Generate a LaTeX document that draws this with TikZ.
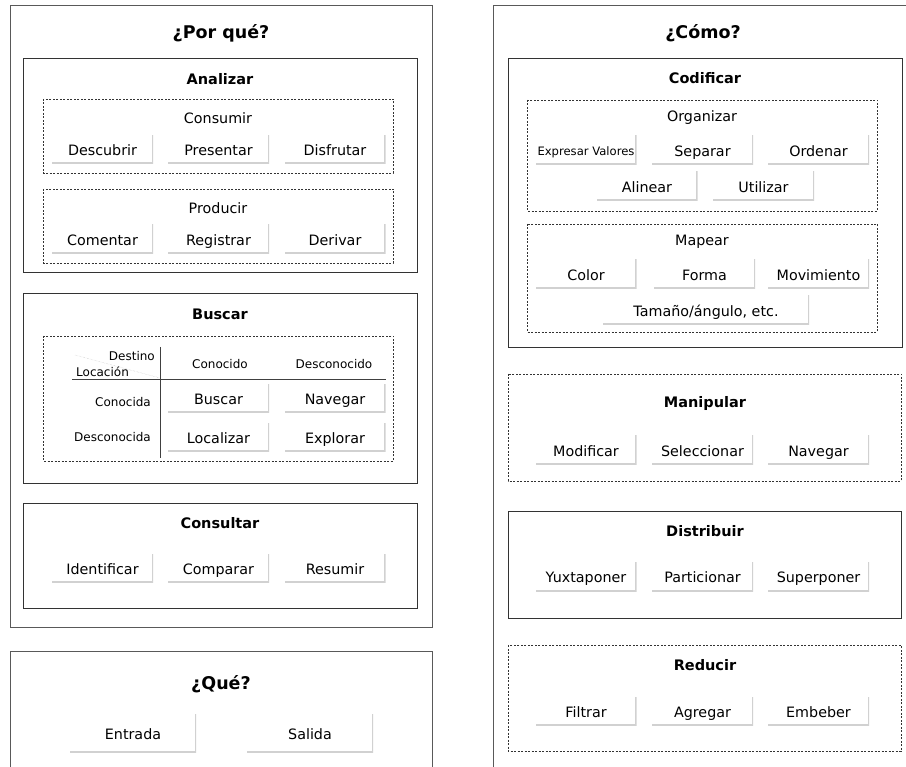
\documentclass[tikz,border=0pt]{standalone}
\usepackage{fontspec}
\setmainfont{DejaVu Sans}
\usetikzlibrary{shadows}

\begin{document}
\begin{tikzpicture}[x=1pt,y=-1pt]
\tikzset{titulo/.style={font=\bfseries\fontsize{17.5}{20}\selectfont},
  seccion/.style={font=\bfseries\fontsize{14.5}{17}\selectfont},
  etiqueta/.style={font=\fontsize{14.3}{17}\selectfont},
  tabla/.style={font=\fontsize{12}{14}\selectfont, inner sep=0pt},
  boton/.style={etiqueta, minimum width=101pt, minimum height=29pt, inner sep=0pt,
    text height=12.4pt, text depth=0pt,
    path picture={\draw[black!18, line width=3pt] (path picture bounding box.north east)
      -- (path picture bounding box.south east) -- (path picture bounding box.south west);}},
  externo/.style={draw=black!65, line width=1pt, fill=white,
    drop shadow={shadow xshift=1pt, shadow yshift=-1pt, fill=black!30, opacity=1}},
  marco/.style={draw=black!80, line width=0.9pt, fill=white,
    drop shadow={shadow xshift=1.2pt, shadow yshift=-1.2pt, fill=black!45, opacity=1}},
  grupo/.style={draw=black!80, line width=0.9pt, dash pattern=on 2pt off 1.5pt}}
\useasboundingbox (0,0) rectangle (906,767);
\clip (0,0) rectangle (906,767);

% ¿Por qué?
\draw[externo] (10,6) rectangle (432,627);
\node[titulo] (porque) at (221,33) {¿Por qué?};
\draw[marco] (23,58) rectangle (417,272);
\node[seccion] (analizar) at (220,79) {Analizar};
\draw[grupo] (43,99) rectangle (393,173);
\node[etiqueta] (consumir) at (218,118) {Consumir};
\node[boton] (descubrir) at (102.5,149.5) {Descubrir};
\node[boton] (presentar) at (218.5,149.5) {Presentar};
\node[boton] (disfrutar) at (335,149.5) {Disfrutar};
\draw[grupo] (43,189) rectangle (393,263);
\node[etiqueta] (producir) at (218,208) {Producir};
\node[boton] (comentar) at (102.5,239) {Comentar};
\node[boton] (registrar) at (218.5,239) {Registrar};
\node[boton] (derivar) at (335,239) {Derivar};

\draw[marco] (23,293) rectangle (417,483);
\node[seccion] (buscar) at (220,314) {Buscar};
\draw[grupo] (43,336) rectangle (393,461);
\coordinate (diagA) at (75,355);
\coordinate (diagB) at (160,378);
\coordinate (vertA) at (160,347);
\coordinate (vertB) at (160,458);
\coordinate (horA) at (72,379);
\coordinate (horB) at (386,379);
\draw[black!25, densely dotted] (diagA) -- (diagB);
\draw[black!75, line width=0.8pt] (vertA) -- (vertB);
\draw[black!75, line width=0.8pt] (horA) -- (horB);
\node[tabla, anchor=east] (destino) at (155,356) {Destino};
\node[tabla, anchor=west] (locacion) at (76,372) {Locación};
\node[tabla] (conocido) at (220,364) {Conocido};
\node[tabla] (desconocido) at (334,364) {Desconocido};
\node[tabla, anchor=east] (conocida) at (151,402) {Conocida};
\node[tabla, anchor=east] (desconocida) at (151,437) {Desconocida};
\node[boton] (bbuscar) at (218.5,398.5) {Buscar};
\node[boton] (navegar) at (335,398.5) {Navegar};
\node[boton] (localizar) at (218.5,437.5) {Localizar};
\node[boton] (explorar) at (335,437.5) {Explorar};

\draw[marco] (23,503) rectangle (417,608);
\node[seccion] (consultar) at (220,523) {Consultar};
\node[boton] (identificar) at (102.5,568) {Identificar};
\node[boton] (comparar) at (218.5,568) {Comparar};
\node[boton] (resumir) at (335,568) {Resumir};

% ¿Qué?
\draw[externo] (10,651) rectangle (432,790);
\node[titulo] (que) at (221,684) {¿Qué?};
\node[boton, minimum width=126pt, minimum height=38pt] (entrada) at (133,733) {Entrada};
\node[boton, minimum width=126pt, minimum height=38pt] (salida) at (310,733) {Salida};

% ¿Cómo?
\draw[externo] (493,6) rectangle (913,790);
\node[titulo] (como) at (703,33) {¿Cómo?};
\draw[marco] (508,58) rectangle (902,347);
\node[seccion] (codificar) at (705,78) {Codificar};
\draw[grupo] (527,100) rectangle (877,211);
\node[etiqueta] (organizar) at (702,118) {Organizar};
\node[boton, font=\fontsize{11.6}{14}\selectfont, text height=11pt] (expresar) at (586,150) {Expresar Valores};
\node[boton] (separar) at (702.5,150) {Separar};
\node[boton] (ordenar) at (818.5,150) {Ordenar};
\node[boton] (alinear) at (647,186) {Alinear};
\node[boton] (utilizar) at (763.5,186) {Utilizar};
\draw[grupo] (527,224) rectangle (877,332);
\node[etiqueta] (mapear) at (702,242) {Mapear};
\node[boton] (color) at (586,274) {Color};
\node[boton] (forma) at (704.5,274) {Forma};
\node[boton] (movimiento) at (818.5,274) {Movimiento};
\node[boton, minimum width=206pt] (tamano) at (706,310) {Tamaño/ángulo, etc.};

\draw[grupo] (508,374) rectangle (901,481);
\node[seccion] (manipular) at (705,404) {Manipular};
\node[boton] (modificar) at (586,450) {Modificar};
\node[boton] (seleccionar) at (702.5,450) {Seleccionar};
\node[boton] (mnavegar) at (818.5,450) {Navegar};

\draw[marco] (508,511) rectangle (901,618);
\node[seccion] (distribuir) at (705,531) {Distribuir};
\node[boton] (yuxtaponer) at (586,576.5) {Yuxtaponer};
\node[boton] (particionar) at (702.5,576.5) {Particionar};
\node[boton] (superponer) at (818.5,576.5) {Superponer};

\draw[grupo] (508,645) rectangle (901,751);
\node[seccion] (reducir) at (705,665) {Reducir};
\node[boton] (filtrar) at (586,711) {Filtrar};
\node[boton] (agregar) at (702.5,711) {Agregar};
\node[boton] (embeber) at (818.5,711) {Embeber};
\end{tikzpicture}
\end{document}
